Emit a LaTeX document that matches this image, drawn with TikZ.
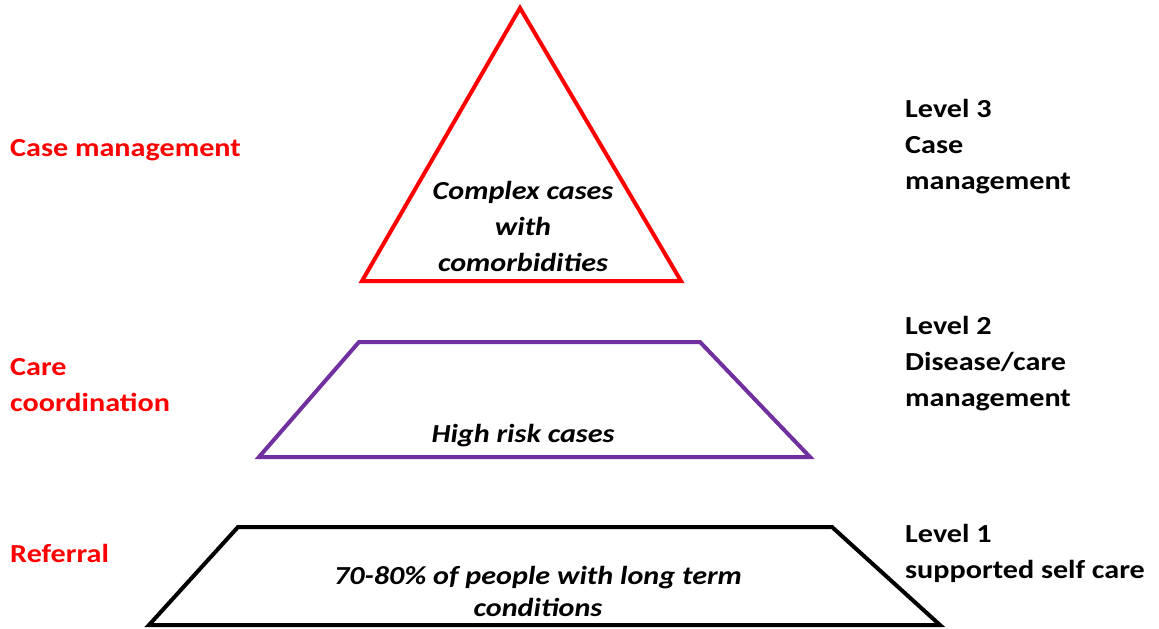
\documentclass[tikz,border=0pt]{standalone}
\usepackage{fontspec}
\setmainfont{Carlito}[FakeStretch=1.16]
\begin{document}
\begin{tikzpicture}[x=1pt,y=-1pt,
  tier/.style={line width=4pt, line join=miter},
  sidelabel/.style={font=\bfseries\fontsize{26}{36}\selectfont, align=left, anchor=west, inner sep=0pt},
  inlabel/.style={font=\bfseries\itshape\fontsize{26}{36}\selectfont, align=center, inner sep=0pt}]
  \definecolor{lvlred}{RGB}{255,0,0}
  \definecolor{lvlpurple}{RGB}{112,48,160}
  \useasboundingbox (0,0) rectangle (1159,629);

  % level 3: triangle
  \coordinate (t3a) at (520,8);
  \coordinate (t3l) at (362,281);
  \coordinate (t3r) at (681,281);
  \draw[tier, draw=lvlred] (t3a) -- (t3r) -- (t3l) -- cycle;

  % level 2: purple trapezoid
  \coordinate (t2tl) at (359,342);
  \coordinate (t2tr) at (700,342);
  \coordinate (t2br) at (810,457);
  \coordinate (t2bl) at (259,457);
  \draw[tier, draw=lvlpurple] (t2tl) -- (t2tr) -- (t2br) -- (t2bl) -- cycle;

  % level 1: black trapezoid
  \coordinate (t1tl) at (238,527);
  \coordinate (t1tr) at (832,527);
  \coordinate (t1br) at (940,625);
  \coordinate (t1bl) at (149,625);
  \draw[tier, draw=black] (t1tl) -- (t1tr) -- (t1br) -- (t1bl) -- cycle;

  % texts inside the tiers
  \node[inlabel] (in3) at (523,226) {Complex cases\\with\\comorbidities};
  \node[inlabel] (in2) at (523,436) {High risk cases};
  \node[inlabel, font=\bfseries\itshape\fontsize{26}{32}\selectfont] (in1) at (538,591) {70-80\% of people with long term\\conditions};

  % roles on the left
  \node[sidelabel, text=lvlred] (role3) at (10,150) {Case management};
  \node[sidelabel, text=lvlred] (role2) at (10,385) {Care\\coordination};
  \node[sidelabel, text=lvlred] (role1) at (10,553) {Referral};

  % levels on the right
  \node[sidelabel] (lvl3) at (905,147) {Level 3\\Case\\management};
  \node[sidelabel] (lvl2) at (905,364) {Level 2\\Disease/care\\management};
  \node[sidelabel] (lvl1) at (905,553) {Level 1\\supported self care};
\end{tikzpicture}
\end{document}
